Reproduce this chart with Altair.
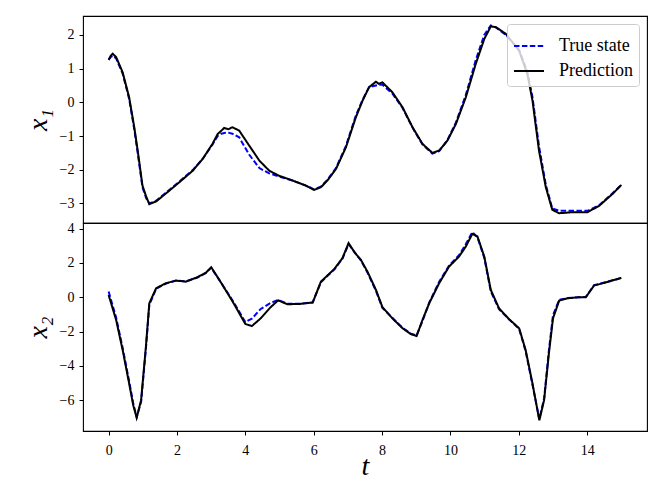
import altair as alt
import pandas as pd

# ---- data ----
t1 = [0.0, 0.06, 0.12, 0.22, 0.41, 0.6, 0.75, 0.85, 0.99, 1.1, 1.19, 1.39, 1.68, 2.07, 2.46,
      2.75, 3.04, 3.19, 3.3, 3.38, 3.5, 3.62, 3.82, 4.11, 4.41, 4.7, 4.99, 5.38, 5.77, 6.01,
      6.21, 6.4, 6.65, 6.94, 7.23, 7.43, 7.62, 7.82, 7.9, 8.01, 8.3, 8.6, 8.89, 9.18, 9.47,
      9.67, 9.91, 10.16, 10.45, 10.74, 10.99, 11.18, 11.33, 11.62, 12.01, 12.25, 12.4, 12.59,
      12.79, 12.98, 13.18, 13.57, 14.01, 14.35, 14.74, 15.0]
x1_pred = [1.26, 1.38, 1.44, 1.34, 0.89, 0.15, -0.74, -1.43, -2.47, -2.8, -3.02, -2.94, -2.70,
           -2.37, -2.03, -1.68, -1.23, -0.94, -0.84, -0.76, -0.80, -0.74, -0.84, -1.28, -1.73,
           -2.03, -2.18, -2.32, -2.47, -2.60, -2.52, -2.32, -1.98, -1.34, -0.45, 0.05, 0.45,
           0.61, 0.55, 0.59, 0.30, -0.15, -0.74, -1.23, -1.50, -1.43, -1.14, -0.64, 0.15, 1.14,
           1.88, 2.25, 2.23, 2.03, 1.53, 0.84, 0.05, -1.43, -2.52, -3.19, -3.29, -3.26, -3.26,
           -3.07, -2.72, -2.45]
x1_true = [1.26, 1.34, 1.38, 1.30, 0.85, 0.10, -0.80, -1.50, -2.52, -2.85, -3.00, -2.92, -2.68,
           -2.35, -2.01, -1.68, -1.25, -1.00, -0.93, -0.91, -0.90, -0.93, -1.04, -1.55, -1.95,
           -2.11, -2.20, -2.32, -2.47, -2.58, -2.50, -2.30, -1.95, -1.30, -0.40, 0.08, 0.45,
           0.50, 0.52, 0.52, 0.26, -0.17, -0.75, -1.25, -1.52, -1.45, -1.12, -0.60, 0.22, 1.25,
           2.00, 2.28, 2.22, 2.00, 1.55, 0.90, 0.15, -1.30, -2.45, -3.15, -3.22, -3.22, -3.22,
           -3.05, -2.70, -2.45]

t2 = [0.0, 0.22, 0.41, 0.6, 0.72, 0.82, 0.95, 1.09, 1.19, 1.39, 1.68, 1.97, 2.26, 2.6, 2.85,
      3.0, 3.24, 3.63, 4.0, 4.19, 4.45, 4.74, 4.96, 5.23, 5.58, 5.97, 6.21, 6.6, 6.84, 7.02,
      7.2, 7.38, 7.57, 7.82, 8.01, 8.3, 8.6, 8.84, 9.01, 9.18, 9.38, 9.67, 9.96, 10.25, 10.45,
      10.64, 10.79, 10.99, 11.18, 11.42, 11.72, 12.01, 12.2, 12.4, 12.6, 12.74, 12.88, 13.0,
      13.18, 13.42, 13.76, 13.96, 14.2, 14.54, 15.0]
x2_pred = [0.13, -1.33, -3.08, -5.03, -6.30, -7.02, -6.00, -2.89, -0.35, 0.53, 0.82, 0.97, 0.91,
           1.17, 1.44, 1.75, 1.01, -0.26, -1.56, -1.68, -1.23, -0.58, -0.18, -0.41, -0.39, -0.31,
           0.91, 1.64, 2.28, 3.16, 2.60, 2.18, 1.50, 0.43, -0.58, -1.23, -1.81, -2.15, -2.26,
           -1.33, -0.35, 0.82, 1.79, 2.37, 2.96, 3.70, 3.54, 2.37, 0.43, -0.64, -1.29, -1.81,
           -3.08, -5.03, -7.18, -6.00, -3.28, -1.23, -0.20, -0.06, 0.00, 0.00, 0.68, 0.86, 1.13]
x2_true = [0.33, -1.20, -2.95, -4.90, -6.20, -7.00, -6.10, -3.00, -0.45, 0.50, 0.80, 0.97, 0.93,
           1.15, 1.42, 1.72, 1.00, -0.20, -1.45, -1.25, -0.68, -0.33, -0.16, -0.38, -0.38, -0.30,
           0.88, 1.62, 2.25, 3.10, 2.62, 2.15, 1.45, 0.38, -0.62, -1.20, -1.78, -2.12, -2.22,
           -1.40, -0.30, 0.90, 1.85, 2.45, 3.10, 3.80, 3.50, 2.30, 0.35, -0.70, -1.30, -1.85,
           -3.15, -5.10, -7.10, -5.90, -3.10, -1.05, -0.15, -0.05, 0.00, 0.02, 0.70, 0.88, 1.13]

series_names = ["True state", "Prediction"]
series_colors = ["#0000ff", "#000000"]
series_dashes = [[5.5, 2.4], [1, 0]]

FONT = "Liberation Serif"
W = 564

def frame(t, true_vals, pred_vals):
    a = pd.DataFrame({"t": t, "v": true_vals, "series": series_names[0]})
    b = pd.DataFrame({"t": t, "v": pred_vals, "series": series_names[1]})
    return a, b

color_scale = alt.Scale(domain=series_names, range=series_colors)
dash_scale = alt.Scale(domain=series_names, range=series_dashes)
x_scale = alt.Scale(domain=[-0.75, 15.75], nice=False, zero=False)


def panel(t, tv, pv, ydom, yticks, title, height, show_x, show_legend):
    a, b = frame(t, tv, pv)
    if show_x:
        xenc = alt.X("t:Q", scale=x_scale,
                     axis=alt.Axis(values=list(range(0, 15, 2)), format="d", title="t",
                                   titleFontStyle="italic", titleFontSize=28, titleFont=FONT,
                                   titleFontWeight="normal", titleY=43, titleBaseline="alphabetic",
                                   titleColor="black", labelPadding=8))
    else:
        xenc = alt.X("t:Q", scale=x_scale, axis=None)
    yenc = alt.Y("v:Q", scale=alt.Scale(domain=ydom, nice=False, zero=False),
                 axis=alt.Axis(values=yticks, format="d", title=title, titleFont=FONT,
                               titleFontStyle="italic", titleFontSize=28, titleFontWeight="normal",
                               titleAngle=270, titleX=-37, titleY=height / 2,
                               titleAlign="center", titleBaseline="alphabetic",
                               titleColor="black"))
    if show_legend:
        leg = alt.Legend(title=None, orient="top-right", offset=8, symbolType="stroke",
                         symbolSize=900, symbolStrokeWidth=2, labelFont=FONT, labelFontSize=18,
                         labelColor="black", fillColor="rgba(255,255,255,0.8)",
                         strokeColor="#cccccc", cornerRadius=3, padding=6, rowPadding=0,
                         labelOffset=14)
    else:
        leg = None
    col = alt.Color("series:N", scale=color_scale, legend=leg)
    dash = alt.StrokeDash("series:N", scale=dash_scale, legend=leg)
    l1 = alt.Chart(a).mark_line(strokeWidth=2).encode(x=xenc, y=yenc, color=col, strokeDash=dash)
    l2 = alt.Chart(b).mark_line(strokeWidth=2).encode(x=xenc, y=yenc, color=col, strokeDash=dash)
    return alt.layer(l1, l2).properties(width=W, height=height)


top = panel(t1, x1_true, x1_pred, [-3.58, 2.56], [-3, -2, -1, 0, 1, 2], "x₁", 207, False, True)
bottom = panel(t2, x2_true, x2_pred, [-7.8, 4.33], [-6, -4, -2, 0, 2, 4], "x₂", 208, True, False)

chart = alt.vconcat(top, bottom, spacing=0, bounds="flush").resolve_scale(
    color="independent", strokeDash="independent"
).resolve_legend(color="independent", strokeDash="independent").properties(
    padding={"left": 15, "top": 7, "right": 5, "bottom": 5}
).configure_view(stroke="black", strokeWidth=1.1).configure_axis(
    grid=False, domain=False, ticks=True, tickColor="black", tickSize=4, tickWidth=1,
    labelFont=FONT, labelFontSize=14, labelColor="black", labelPadding=4
).configure_axisY(labelPadding=5)

chart.save("out.html", embed_options={"renderer": "svg", "actions": False})
